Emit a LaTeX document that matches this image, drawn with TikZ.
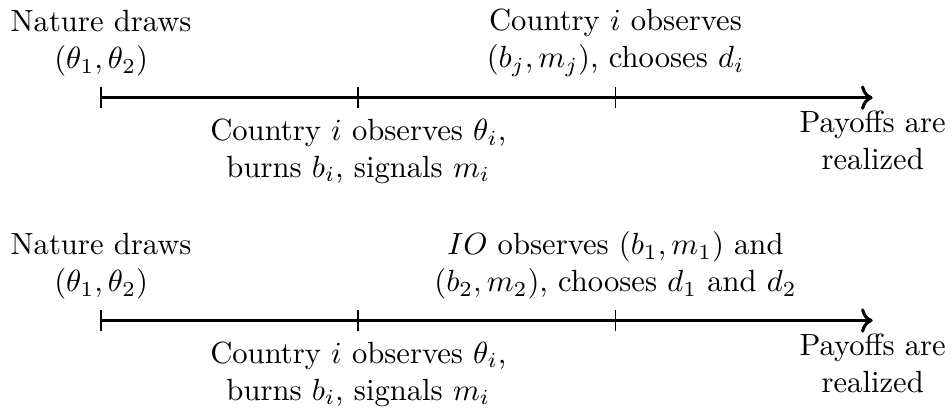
\documentclass[tikz,border=0pt]{standalone}
\usetikzlibrary{arrows.meta, positioning}
\tikzset{
  axis/.style     = {->, line width=1pt},
  tickmark/.style = {line width=0.6pt},
  event/.style    = {align=center}
}
\begin{document}
\begin{tikzpicture}
\useasboundingbox (-1.16,-3.63) rectangle (9.76,1.12);
% Upper timeline: each country decides
\coordinate (a0) at (0,0);
\coordinate (a1) at (2.95,0);
\coordinate (a2) at (5.9,0);
\coordinate (a3) at (8.85,0);
\draw[axis] (a0) -- (a3);
\foreach \t in {a0,a1,a2}
  \draw[tickmark] ([yshift=-1.2mm]\t) -- ([yshift=1.2mm]\t);
\node[event, above=1.2mm of a0] (nat1) {Nature draws\\$(\theta_1,\theta_2)$};
\node[event, below=1.2mm of a1] (sig1) {Country $i$ observes $\theta_i$,\\burns $b_i$, signals $m_i$};
\node[event, above=1.2mm of a2] (dec1) {Country $i$ observes\\$(b_j,m_j)$, chooses $d_i$};
\node[event, below=0.3mm of a3] (pay1) {Payoffs are\\realized};
% Lower timeline: the IO decides
\coordinate (b0) at (0,-2.556);
\coordinate (b1) at (2.95,-2.556);
\coordinate (b2) at (5.9,-2.556);
\coordinate (b3) at (8.85,-2.556);
\draw[axis] (b0) -- (b3);
\foreach \t in {b0,b1,b2}
  \draw[tickmark] ([yshift=-1.2mm]\t) -- ([yshift=1.2mm]\t);
\node[event, above=1.2mm of b0] (nat2) {Nature draws\\$(\theta_1,\theta_2)$};
\node[event, below=1.2mm of b1] (sig2) {Country $i$ observes $\theta_i$,\\burns $b_i$, signals $m_i$};
\node[event, above=1.2mm of b2] (dec2) {$IO$ observes $(b_1,m_1)$ and\\$(b_2,m_2)$, chooses $d_1$ and $d_2$};
\node[event, below=0.3mm of b3] (pay2) {Payoffs are\\realized};
\end{tikzpicture}
\end{document}
